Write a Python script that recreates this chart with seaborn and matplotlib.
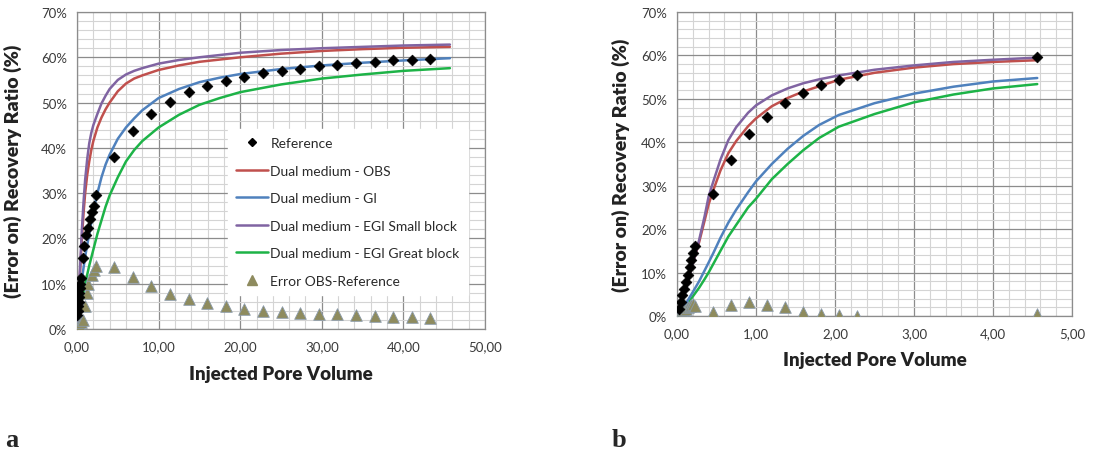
import numpy as np
import pandas as pd
import matplotlib
matplotlib.use("Agg")
import matplotlib.pyplot as plt
from matplotlib.ticker import MultipleLocator, FuncFormatter
from matplotlib.lines import Line2D
import seaborn as sns

# ---------------- Panel a data ----------------
a_ref_x = [0.05, 0.10, 0.15, 0.20, 0.25, 0.30, 0.35, 0.40, 0.46, 0.68, 0.91, 1.14, 1.37,
           1.60, 1.82, 2.05, 2.28, 4.56, 6.84, 9.12, 11.40, 13.68, 15.96, 18.24, 20.52,
           22.80, 25.08, 27.36, 29.64, 31.92, 34.20, 36.48, 38.76, 41.04, 43.32]
a_ref_y = [3.0, 4.0, 5.0, 6.0, 7.0, 8.0, 9.0, 10.0, 11.2, 15.6, 18.4, 20.7, 22.4,
           24.3, 25.8, 27.2, 29.6, 38.0, 43.8, 47.5, 50.2, 52.3, 53.6, 54.8, 55.7,
           56.5, 57.0, 57.5, 58.0, 58.3, 58.7, 58.9, 59.3, 59.5, 59.7]
a_err_x = [0.05, 0.15, 0.30, 0.45, 0.69, 0.98, 1.18, 1.39, 1.80, 2.12, 2.28, 4.56, 6.84,
           9.12, 11.40, 13.68, 15.96, 18.24, 20.52, 22.80, 25.08, 27.36, 29.64, 31.92,
           34.20, 36.48, 38.76, 41.04, 43.32]
a_err_y = [0.3, 0.6, 1.0, 1.5, 2.0, 5.0, 8.0, 10.0, 12.0, 13.0, 14.0, 13.6, 11.4,
           9.4, 7.7, 6.6, 5.7, 5.0, 4.4, 4.0, 3.8, 3.5, 3.3, 3.3,
           3.1, 2.9, 2.7, 2.6, 2.4]

a_fast_x = [0, 0.15, 0.3, 0.45, 0.6, 0.8, 1.0, 1.25, 1.5, 1.75, 2.0, 2.5, 3, 3.5, 4, 5,
            6, 7, 8, 10, 12.5, 15, 20, 25, 30, 35, 40, 45.7]
a_obs = [0, 5, 10, 15, 20, 25.5, 30, 34, 37, 39.5, 41.5, 44.5, 46.7, 48.5, 50, 52.5,
         54.2, 55.3, 56, 57.2, 58.2, 59, 60, 60.8, 61.4, 61.8, 62.1, 62.3]
a_egi_small = [0, 5.5, 11, 16.5, 22, 28, 33, 37.5, 41, 43.3, 45, 47.5, 49.8, 51.5, 53, 55,
               56.2, 57, 57.6, 58.6, 59.4, 60, 61, 61.6, 62, 62.3, 62.6, 62.8]
a_slow_x = [0, 0.3, 0.6, 1.0, 1.5, 2.0, 2.5, 3, 3.5, 4, 5, 6, 7, 8, 10, 12.5, 15, 17.5,
            20, 25, 30, 35, 40, 45.7]
a_gi = [0, 6, 11, 16, 21, 26, 30, 33.5, 36.3, 38.5, 42, 44.5, 46.5, 48.3, 51, 53, 54.5,
        55.5, 56.3, 57.4, 58.2, 58.8, 59.3, 59.8]
a_egi_great = [0, 3.5, 6.5, 10, 14, 17.5, 21, 24, 27, 29.5, 33.5, 37, 39.5, 41.5, 44.5,
               47.3, 49.5, 51, 52.3, 54, 55.3, 56.2, 57, 57.6]

# ---------------- Panel b data ----------------
b_ref_x = [0.023, 0.046, 0.068, 0.091, 0.114, 0.137, 0.160, 0.182, 0.205, 0.228,
           0.456, 0.684, 0.912, 1.140, 1.368, 1.596, 1.824, 2.052, 2.280, 4.560]
b_ref_y = [1.5, 3.2, 4.8, 6.3, 7.9, 9.5, 11.2, 12.8, 14.5, 16.2,
           28.1, 35.9, 41.8, 45.9, 49.0, 51.4, 53.2, 54.4, 55.5, 59.6]
b_err_x = [0.023, 0.046, 0.068, 0.091, 0.114, 0.137, 0.160, 0.182, 0.205, 0.228,
           0.456, 0.684, 0.912, 1.140, 1.368, 1.596, 1.824, 2.052, 2.280, 4.560]
b_err_y = [0.2, 0.5, 0.9, 1.3, 1.7, 2.0, 2.4, 2.6, 2.7, 2.3,
           0.85, 2.5, 3.2, 2.5, 2.0, 1.0, 0.5, 0.2, 0.1, 0.5]

b_line_x = [0, 0.1, 0.2, 0.28, 0.35, 0.4, 0.46, 0.55, 0.65, 0.75, 0.9, 1.0, 1.2, 1.4, 1.6,
            1.8, 2.05, 2.5, 3.0, 3.5, 4.0, 4.56]
b_obs = [0, 5.5, 12, 17, 22, 25.7, 29, 33.5, 37.5, 40.3, 43.7, 45.5, 48.3, 50.2, 51.7,
         52.9, 54.4, 56.0, 57.2, 58.0, 58.5, 58.9]
b_egi_small = [0, 5.5, 12, 17.5, 23, 27.5, 31, 36, 40.5, 43.5, 46.8, 48.5, 50.8, 52.4, 53.6,
               54.5, 55.4, 56.7, 57.7, 58.5, 59.0, 59.5]
b_gi = [0, 2.5, 5.5, 8.0, 10.5, 12.3, 14.5, 18.0, 21.5, 24.5, 28.5, 31.0, 35.0, 38.5, 41.5,
        44.0, 46.3, 49.0, 51.2, 52.8, 54.0, 54.8]
b_egi_great = [0, 2.0, 4.5, 6.5, 8.5, 10.0, 12.0, 15.0, 18.3, 21.0, 25.0, 27.0, 31.5, 35.0, 38.2,
               41.0, 43.6, 46.5, 49.2, 51.0, 52.4, 53.4]

labels = ["Reference", "Dual medium - OBS", "Dual medium - GI",
          "Dual medium - EGI Small block", "Dual medium - EGI Great block",
          "Error OBS-Reference"]
colors = {"OBS": "#C0504D", "GI": "#4F81BD", "EGI Small": "#8064A2", "EGI Great": "#1DB347"}
tri_color = "#8E8B5E"

sns.set_theme(style="white")
plt.rcParams['font.family'] = ['Lato', 'DejaVu Sans']

fig = plt.figure(figsize=(10.96, 4.52), dpi=100)
ax_a = fig.add_axes([77 / 1096, 1 - 330 / 452, 408 / 1096, 317 / 452])
ax_b = fig.add_axes([677 / 1096, 1 - 317 / 452, 395 / 1096, 304 / 452])


def draw(ax, fx, obs, small, sx, gi, great, rx, ry, ex, ey, xmax, xmaj, xmin):
    for xs, ys, key in [(sx, great, "EGI Great"), (sx, gi, "GI"),
                        (fx, obs, "OBS"), (fx, small, "EGI Small")]:
        sns.lineplot(x=xs, y=np.array(ys) / 100, ax=ax, color=colors[key], lw=1.8,
                     sort=False, estimator=None, zorder=3)
    sns.scatterplot(x=ex, y=np.array(ey) / 100, ax=ax, marker="^", s=70, color=tri_color,
                    edgecolor="#8a9aaa", linewidth=0.6, zorder=4)
    sns.scatterplot(x=rx, y=np.array(ry) / 100, ax=ax, marker="D", s=30, color="black",
                    edgecolor="black", linewidth=0.5, zorder=5)
    ax.set_xlim(0, xmax)
    ax.set_ylim(0, 0.70)
    ax.xaxis.set_major_locator(MultipleLocator(xmaj))
    ax.xaxis.set_minor_locator(MultipleLocator(xmin))
    ax.yaxis.set_major_locator(MultipleLocator(0.10))
    ax.yaxis.set_minor_locator(MultipleLocator(0.02))
    ax.xaxis.set_major_formatter(FuncFormatter(lambda v, p: f"{v:.2f}".replace(".", ",")))
    ax.yaxis.set_major_formatter(FuncFormatter(lambda v, p: f"{v * 100:.0f}%"))
    ax.grid(which="minor", color="#D4D4D4", lw=0.8, zorder=0)
    ax.grid(which="major", color="#8C8C8C", lw=0.9, zorder=0)
    ax.set_axisbelow(True)
    for s in ax.spines.values():
        s.set_color("#8C8C8C")
        s.set_linewidth(0.9)
    ax.tick_params(axis="both", which="both", length=0, labelsize=9.5, colors="#3a3a3a")
    ax.tick_params(axis="x", pad=8)
    ax.tick_params(axis="y", pad=7)
    ax.set_xlabel("Injected Pore Volume", fontsize=13.5, fontweight="heavy", color="#222222")
    ax.set_ylabel("(Error on) Recovery Ratio (%)", fontsize=14, fontweight="heavy", color="#222222")


draw(ax_a, a_fast_x, a_obs, a_egi_small, a_slow_x, a_gi, a_egi_great,
     a_ref_x, a_ref_y, a_err_x, a_err_y, 50, 10, 2)
draw(ax_b, b_line_x, b_obs, b_egi_small, b_line_x, b_gi, b_egi_great,
     b_ref_x, b_ref_y, b_err_x, b_err_y, 5, 1, 0.2)

ax_a.yaxis.set_label_coords(-0.135, 0.5)
ax_a.xaxis.set_label_coords(0.5, -0.112)
ax_b.yaxis.set_label_coords(-0.12, 0.5)
ax_b.xaxis.set_label_coords(0.5, -0.115)

handles = [
    Line2D([], [], ls="", marker="D", color="black", markersize=4.5),
    Line2D([], [], color=colors["OBS"], lw=1.8),
    Line2D([], [], color=colors["GI"], lw=1.8),
    Line2D([], [], color=colors["EGI Small"], lw=1.8),
    Line2D([], [], color=colors["EGI Great"], lw=1.8),
    Line2D([], [], ls="", marker="^", color=tri_color, markersize=6.5),
]
leg = ax_a.legend(handles, labels, loc="upper left", bbox_to_anchor=(0.37, 0.632),
                  fontsize=10, frameon=True, facecolor="white", edgecolor="white",
                  framealpha=1, fancybox=False, handlelength=2.3, handletextpad=0.15,
                  labelspacing=1.12, borderpad=0.6, borderaxespad=0)
for t in leg.get_texts():
    t.set_color("#2a2a2a")
leg.set_zorder(10)

fig.text(5 / 1096, 1 - 447 / 452, "a", fontsize=19, fontweight="bold",
         family="Liberation Serif", ha="left", va="baseline")
fig.text(612 / 1096, 1 - 447 / 452, "b", fontsize=19, fontweight="bold",
         family="Liberation Serif", ha="left", va="baseline")

fig.savefig("out.png", dpi=100)
